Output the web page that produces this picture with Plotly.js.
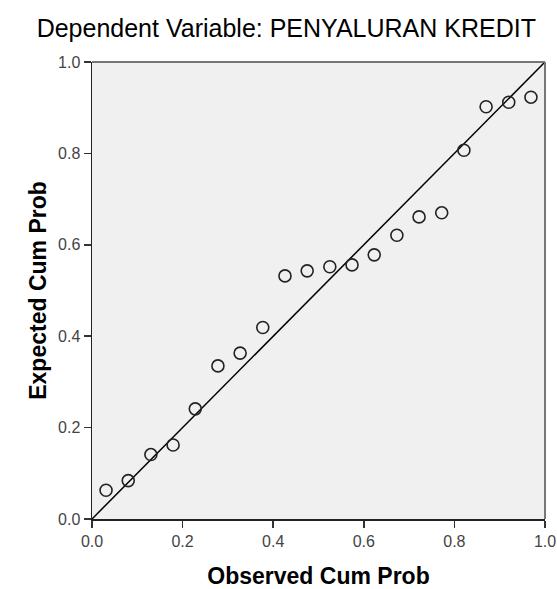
<!DOCTYPE html>
<html>
<head>
<meta charset="utf-8">
<script src="https://cdn.plot.ly/plotly-3.0.1.min.js"></script>
<style>html,body{margin:0;padding:0;background:#fff;}#chart{width:557px;height:589px;}</style>
</head>
<body>
<div id="chart"></div>
<script>
const observed = [0.031, 0.080, 0.130, 0.179, 0.228, 0.278, 0.327, 0.377, 0.426, 0.475, 0.525, 0.574, 0.623, 0.673, 0.722, 0.772, 0.821, 0.870, 0.920, 0.969];
const expected = [0.063, 0.084, 0.141, 0.162, 0.241, 0.335, 0.363, 0.419, 0.532, 0.543, 0.552, 0.556, 0.578, 0.621, 0.661, 0.670, 0.807, 0.902, 0.912, 0.923];
const refLine = [0, 1];
const tickVals = [0, 0.2, 0.4, 0.6, 0.8, 1.0];
const tickText = ["0.0", "0.2", "0.4", "0.6", "0.8", "1.0"];

const FONT = 'Liberation Sans, Arial, sans-serif';

const traces = [
  {x: refLine, y: refLine, mode: 'lines', line: {color: '#000', width: 1.5}, hoverinfo: 'skip', cliponaxis: false},
  {x: observed, y: expected, mode: 'markers', cliponaxis: false,
   marker: {symbol: 'circle-open', size: 12, color: '#222', line: {width: 1.6, color: '#222'}}}
];

const axisCommon = {
  range: [0, 1], tickvals: tickVals, ticktext: tickText, ticks: 'outside', ticklen: 7, tickwidth: 1.5,
  tickcolor: '#333', showgrid: false, zeroline: false, showline: true, linecolor: '#222', linewidth: 1.5,
  tickfont: {family: FONT, size: 16, color: '#444'}, fixedrange: true
};

const layout = {
  width: 557, height: 589,
  margin: {l: 92, r: 12, t: 62, b: 70},
  paper_bgcolor: '#fff', plot_bgcolor: '#f0f0f0',
  showlegend: false,
  title: {text: 'Dependent Variable: PENYALURAN KREDIT', x: 0.514, xanchor: 'center', yref: 'container', y: 0.952, yanchor: 'middle',
          font: {family: FONT, size: 25, color: '#000'}},
  xaxis: Object.assign({}, axisCommon, {
    title: {text: '<b>Observed Cum Prob</b>', standoff: 20, font: {family: FONT, size: 23, color: '#000'}}
  }),
  yaxis: Object.assign({}, axisCommon, {
    title: {text: '<b>Expected Cum Prob</b>', standoff: 5, font: {family: FONT, size: 23, color: '#000'}}
  }),
  shapes: [
    {type: 'line', xref: 'paper', yref: 'paper', x0: 0, x1: 1, y0: 1, y1: 1, line: {color: '#777', width: 2}},
    {type: 'line', xref: 'paper', yref: 'paper', x0: 1, x1: 1, y0: 0, y1: 1, line: {color: '#777', width: 2}}
  ]
};

Plotly.newPlot('chart', traces, layout, {displayModeBar: false, staticPlot: true});
</script>
</body>
</html>
